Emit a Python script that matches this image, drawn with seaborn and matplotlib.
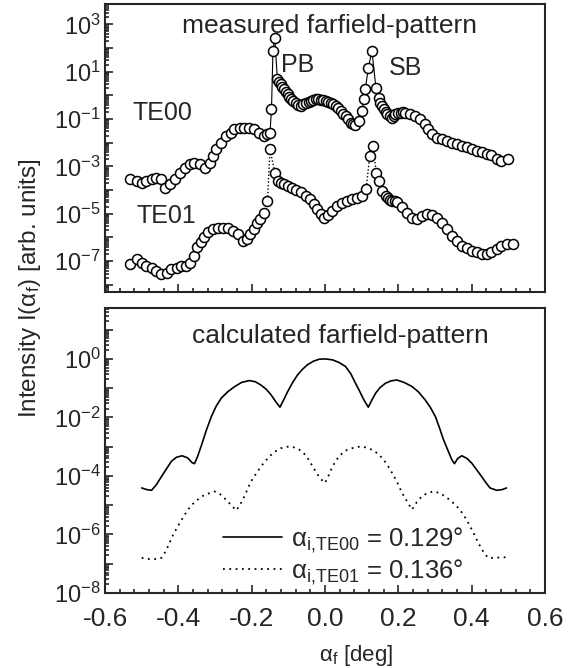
import matplotlib
matplotlib.use("Agg")
import matplotlib.pyplot as plt
import matplotlib.ticker as mticker
import seaborn as sns
import pandas as pd
import numpy as np

# measured farfield pattern, alpha_f [deg] and log10 intensity
te00_meas_x = [-0.532, -0.514, -0.500, -0.487, -0.473, -0.460, -0.446, -0.437, -0.424, -0.410,
               -0.396, -0.383, -0.369, -0.356, -0.342, -0.328, -0.315, -0.306, -0.297, -0.283,
               -0.270, -0.256, -0.247, -0.233, -0.220, -0.206, -0.193, -0.179, -0.166, -0.157,
               -0.150, -0.146, -0.142, -0.137, -0.130, -0.125, -0.120, -0.116, -0.111, -0.106,
               -0.102, -0.098, -0.093, -0.086, -0.080, -0.073, -0.066, -0.059, -0.052, -0.045,
               -0.039, -0.032, -0.025, -0.018, -0.012, -0.005, 0.002, 0.009, 0.016, 0.022,
               0.029, 0.036, 0.043, 0.050, 0.056, 0.063, 0.070, 0.076, 0.083, 0.092,
               0.101, 0.106, 0.110, 0.118, 0.128, 0.139, 0.147, 0.151, 0.156, 0.160,
               0.165, 0.169, 0.176, 0.183, 0.188, 0.192, 0.199, 0.206, 0.212, 0.219,
               0.233, 0.246, 0.260, 0.273, 0.282, 0.291, 0.305, 0.318, 0.332, 0.346,
               0.359, 0.373, 0.386, 0.400, 0.414, 0.427, 0.441, 0.454, 0.468, 0.481, 0.500]
te00_meas_log = [-3.54, -3.61, -3.68, -3.61, -3.54, -3.47, -3.54, -3.89, -3.75, -3.54,
                 -3.26, -3.05, -2.91, -2.84, -2.91, -3.05, -2.84, -2.56, -2.27, -1.99,
                 -1.71, -1.57, -1.40, -1.36, -1.36, -1.36, -1.43, -1.57, -1.71, -1.64,
                 -1.57, -0.59, 1.87, 2.44, 0.68, 0.57, 0.47, 0.36, 0.26, 0.15,
                 0.05, -0.05, -0.16, -0.23, -0.30, -0.40, -0.45, -0.38, -0.30, -0.27,
                 -0.24, -0.20, -0.16, -0.17, -0.19, -0.21, -0.24, -0.27, -0.30, -0.37,
                 -0.45, -0.55, -0.66, -0.77, -0.87, -1.01, -1.15, -1.22, -1.26, -1.08,
                 -0.66, -0.16, 0.26, 1.17, 1.87, 0.30, -0.09, -0.30, -0.45, -0.59,
                 -0.70, -0.80, -0.88, -0.94, -0.88, -0.80, -0.76, -0.73, -0.72, -0.73,
                 -0.80, -0.87, -1.01, -1.22, -1.43, -1.64, -1.78, -1.85, -1.92, -1.99,
                 -2.06, -2.13, -2.20, -2.27, -2.35, -2.41, -2.49, -2.53, -2.70, -2.77, -2.70]

te01_meas_x = [-0.532, -0.514, -0.500, -0.487, -0.473, -0.460, -0.446, -0.432, -0.419, -0.405,
               -0.392, -0.378, -0.367, -0.358, -0.349, -0.339, -0.330, -0.319, -0.306, -0.292,
               -0.279, -0.265, -0.252, -0.238, -0.224, -0.214, -0.204, -0.195, -0.186, -0.177,
               -0.166, -0.157, -0.150, -0.137, -0.129, -0.120, -0.111, -0.102, -0.091, -0.080,
               -0.066, -0.052, -0.041, -0.030, -0.021, -0.012, -0.003, 0.008, 0.020, 0.033,
               0.047, 0.061, 0.074, 0.088, 0.101, 0.112, 0.122, 0.130, 0.140, 0.147,
               0.156, 0.165, 0.172, 0.178, 0.183, 0.190, 0.196, 0.210, 0.224, 0.237,
               0.251, 0.264, 0.278, 0.291, 0.305, 0.319, 0.332, 0.346, 0.359, 0.373,
               0.386, 0.400, 0.414, 0.427, 0.441, 0.454, 0.468, 0.481, 0.495, 0.513]
te01_meas_log = [-7.13, -6.92, -7.06, -7.20, -7.27, -7.41, -7.55, -7.48, -7.34, -7.27,
                 -7.20, -7.20, -7.06, -6.78, -6.42, -6.21, -6.00, -5.79, -5.65, -5.58,
                 -5.58, -5.62, -5.72, -5.85, -6.14, -6.07, -5.86, -5.65, -5.40, -5.20,
                 -4.95, -4.46, -2.27, -3.26, -3.61, -3.68, -3.75, -3.82, -3.89, -3.99,
                 -4.10, -4.24, -4.38, -4.59, -4.81, -5.02, -5.16, -5.06, -4.88, -4.69,
                 -4.55, -4.46, -4.38, -4.34, -4.24, -3.96, -2.55, -2.13, -3.26, -3.61,
                 -4.03, -4.24, -4.35, -4.40, -4.46, -4.48, -4.52, -4.73, -4.95, -5.16,
                 -5.23, -5.09, -5.02, -5.06, -5.16, -5.37, -5.65, -5.93, -6.14, -6.35,
                 -6.46, -6.56, -6.63, -6.70, -6.70, -6.63, -6.49, -6.35, -6.28, -6.28]

# calculated farfield pattern
te00_calc_x = [-0.500, -0.485, -0.473, -0.460, -0.446, -0.432, -0.419, -0.405, -0.390, -0.375,
               -0.362, -0.356, -0.348, -0.338, -0.324, -0.310, -0.297, -0.283, -0.265, -0.247,
               -0.227, -0.206, -0.190, -0.175, -0.160, -0.147, -0.135, -0.123, -0.112, -0.102,
               -0.088, -0.075, -0.062, -0.048, -0.032, -0.016, 0.000, 0.020, 0.038, 0.056,
               0.070, 0.083, 0.095, 0.106, 0.118, 0.128, 0.138, 0.150, 0.165, 0.180,
               0.196, 0.215, 0.237, 0.255, 0.273, 0.287, 0.301, 0.312, 0.323, 0.335,
               0.346, 0.353, 0.362, 0.373, 0.387, 0.400, 0.413, 0.427, 0.440, 0.450,
               0.468, 0.482, 0.495]
te00_calc_log = [-4.41, -4.47, -4.49, -4.30, -4.02, -3.75, -3.50, -3.36, -3.31, -3.38,
                 -3.55, -3.58, -3.35, -2.99, -2.45, -1.97, -1.62, -1.34, -1.12, -0.95,
                 -0.80, -0.74, -0.78, -0.89, -1.04, -1.23, -1.45, -1.65, -1.38, -1.12,
                 -0.80, -0.55, -0.36, -0.20, -0.08, -0.01, 0.00, -0.03, -0.12, -0.26,
                 -0.50, -0.83, -1.12, -1.40, -1.65, -1.40, -1.17, -0.98, -0.83, -0.75,
                 -0.72, -0.80, -0.94, -1.13, -1.40, -1.65, -1.97, -2.35, -2.76, -3.12,
                 -3.45, -3.58, -3.40, -3.31, -3.40, -3.56, -3.78, -4.02, -4.25, -4.41,
                 -4.49, -4.47, -4.41]

te01_calc_x = [-0.500, -0.480, -0.460, -0.446, -0.437, -0.428, -0.414, -0.396, -0.374, -0.360,
               -0.347, -0.333, -0.320, -0.301, -0.290, -0.279, -0.261, -0.242, -0.233, -0.224,
               -0.213, -0.202, -0.188, -0.175, -0.160, -0.147, -0.133, -0.120, -0.098, -0.082,
               -0.066, -0.052, -0.039, -0.025, -0.012, 0.000, 0.010, 0.020, 0.033, 0.047,
               0.060, 0.074, 0.097, 0.113, 0.129, 0.143, 0.156, 0.170, 0.183, 0.197,
               0.210, 0.224, 0.237, 0.250, 0.264, 0.280, 0.296, 0.312, 0.328, 0.346,
               0.364, 0.378, 0.391, 0.405, 0.418, 0.432, 0.445, 0.464, 0.480, 0.495]
te01_calc_log = [-6.80, -6.84, -6.84, -6.80, -6.62, -6.40, -6.00, -5.60, -5.15, -4.95,
                 -4.81, -4.68, -4.61, -4.53, -4.58, -4.70, -4.93, -5.18, -5.00, -4.81,
                 -4.50, -4.19, -3.92, -3.68, -3.45, -3.28, -3.14, -3.05, -2.99, -3.03,
                 -3.13, -3.30, -3.56, -3.86, -4.10, -4.24, -3.98, -3.68, -3.42, -3.22,
                 -3.11, -3.05, -2.99, -3.03, -3.11, -3.23, -3.39, -3.62, -3.90, -4.22,
                 -4.58, -4.88, -5.15, -4.90, -4.70, -4.58, -4.53, -4.58, -4.70, -4.88,
                 -5.10, -5.33, -5.61, -5.95, -6.29, -6.60, -6.80, -6.80, -6.78, -6.78]

legend_labels = [r"$\alpha_{\rm i{,}TE00}$ = 0.129°", r"$\alpha_{\rm i{,}TE01}$ = 0.136°"]

sns.set_style("ticks")
plt.rcParams["font.family"] = ["Liberation Sans", "DejaVu Sans"]
plt.rcParams["mathtext.fontset"] = "custom"
plt.rcParams["mathtext.rm"] = "Liberation Sans"
plt.rcParams["mathtext.it"] = "Liberation Sans:italic"
plt.rcParams["mathtext.default"] = "regular"
plt.rcParams["axes.unicode_minus"] = False

fig = plt.figure(figsize=(5.77, 6.68), dpi=100)
ax1 = fig.add_axes([0.182, 0.563, 0.7626, 0.431])
ax2 = fig.add_axes([0.182, 0.1123, 0.7626, 0.4266])

df00 = pd.DataFrame({"a": te00_meas_x, "I": 10.0 ** np.array(te00_meas_log)})
df01 = pd.DataFrame({"a": te01_meas_x, "I": 10.0 ** np.array(te01_meas_log)})
mk = dict(marker="o", markersize=7.2, markerfacecolor="white", markeredgecolor="black",
          markeredgewidth=1.1)
sns.lineplot(data=df00, x="a", y="I", ax=ax1, sort=False, estimator=None, color="black",
             lw=0.8, **mk)
sns.lineplot(data=df01, x="a", y="I", ax=ax1, sort=False, estimator=None, color="black",
             lw=1.0, linestyle=(0, (1, 1.5)), **mk)

dc00 = pd.DataFrame({"a": te00_calc_x, "I": 10.0 ** np.array(te00_calc_log)})
dc01 = pd.DataFrame({"a": te01_calc_x, "I": 10.0 ** np.array(te01_calc_log)})
sns.lineplot(data=dc00, x="a", y="I", ax=ax2, sort=False, estimator=None, color="black",
             lw=1.2, label=legend_labels[0])
sns.lineplot(data=dc01, x="a", y="I", ax=ax2, sort=False, estimator=None, color="black",
             lw=1.3, linestyle=(0, (1, 2.5)), label=legend_labels[1])

def fmt_factory(show):
    def f(v, pos):
        e = int(round(np.log10(v)))
        return r"$10^{%d}$" % e if e in show else ""
    return f

for ax, lo, hi, show in [(ax1, 10 ** -8.3, 10 ** 3.86, [3, 1, -1, -3, -5, -7]),
                         (ax2, 1e-8, 10 ** 1.74, [0, -2, -4, -6, -8])]:
    ax.set_yscale("log")
    ax.set_ylim(lo, hi)
    ax.set_xlim(-0.6, 0.6)
    ax.yaxis.set_major_locator(mticker.FixedLocator([10.0 ** k for k in range(-8, 4)]))
    ax.yaxis.set_major_formatter(mticker.FuncFormatter(fmt_factory(show)))
    ax.yaxis.set_minor_locator(mticker.LogLocator(base=10, subs=np.arange(2, 10), numticks=30))
    ax.yaxis.set_minor_formatter(mticker.NullFormatter())
    ax.xaxis.set_major_locator(mticker.MultipleLocator(0.2))
    ax.xaxis.set_minor_locator(mticker.MultipleLocator(0.04))
    ax.tick_params(which="both", direction="in", top=False, right=False, width=1.2)
    ax.tick_params(axis="y", labelsize=17, pad=3)
    ax.tick_params(axis="x", labelsize=19, pad=10)
    ax.tick_params(which="major", length=6)
    ax.tick_params(which="minor", length=3)
    for s in ax.spines.values():
        s.set_linewidth(1.5)
    ax.set_xlabel("")
    ax.set_ylabel("")

ax1.tick_params(axis="x", labelbottom=False)
ax2.xaxis.set_major_formatter(mticker.FuncFormatter(lambda v, p: "%.1f" % v))

ax1.text(0.511, 0.899, "measured farfield-pattern", transform=ax1.transAxes, ha="center",
         va="baseline", fontsize=19)
ax2.text(0.534, 0.877, "calculated farfield-pattern", transform=ax2.transAxes, ha="center",
         va="baseline", fontsize=19)
ax1.text(-0.524, 10 ** -0.73, "TE00", ha="left", va="center", fontsize=18)
ax1.text(-0.513, 10 ** -5.10, "TE01", ha="left", va="center", fontsize=18)
ax1.text(-0.119, 10 ** 1.27, "PB", ha="left", va="center", fontsize=18)
ax1.text(0.174, 10 ** 1.14, "SB", ha="left", va="center", fontsize=18)

ax2.legend(loc="upper left", bbox_to_anchor=(0.268, 0.236), frameon=False, fontsize=18.5,
           handlelength=2.3, handletextpad=0.35, borderpad=0, borderaxespad=0,
           labelspacing=0.1)

fig.text(0.57 * 0.7626 + 0.182, 0.0105, r"$\alpha_{\rm f}$ [deg]", ha="center",
         va="baseline", fontsize=16)
fig.text(0.052, 1 - 288 / 668, r"Intensity I($\alpha_{\rm f}$) [arb. units]", rotation=90,
         ha="center", va="center", fontsize=17.5)

fig.savefig("out.png", dpi=100)
